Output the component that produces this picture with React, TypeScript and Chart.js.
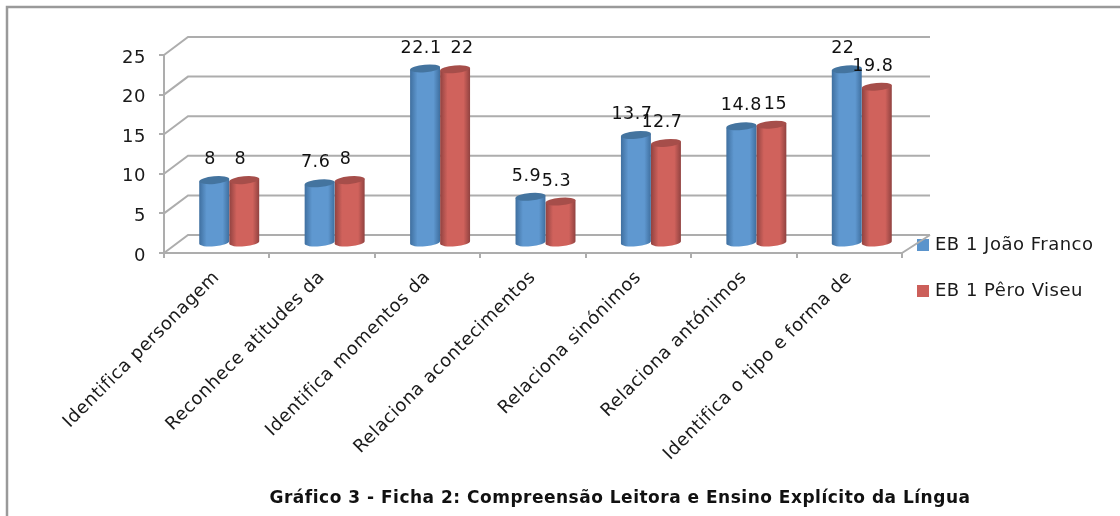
import React, { useEffect, useRef } from "react";
import { Chart, registerables } from "chart.js";

Chart.register(...registerables);

const categories = [
  "Identifica personagem",
  "Reconhece atitudes da",
  "Identifica momentos da",
  "Relaciona acontecimentos",
  "Relaciona sinónimos",
  "Relaciona antónimos",
  "Identifica o tipo e forma de",
];
const joaoFranco = [8, 7.6, 22.1, 5.9, 13.7, 14.8, 22];
const peroViseu = [8, 8, 22, 5.3, 12.7, 15, 19.8];
const seriesNames = ["EB 1 João Franco", "EB 1 Pêro Viseu"];
const titleText = "Gráfico 3 - Ficha 2: Compreensão Leitora e Ensino Explícito da Língua";

const FONT = "'DejaVu Sans', sans-serif";
const GRID = "#adadad";
const TEXT = "#1a1a1a";
const DEPTH_X = 24;
const DEPTH_Y = -18;
const BAR_DX = 12.5;
const BAR_DY = -9.5;
const LETTER_SPACING = "0.5px";

const palette = [
  { edge: "#3f6f9f", mid: "#5f98d0", cap: "#44749f", legend: "#5b94cc" },
  { edge: "#904240", mid: "#d0625c", cap: "#a64e4a", legend: "#cc5f5a" },
];

// Where the source's automatic label placement pushed a label sideways.
const labelShift: Record<string, number> = { "1:2": 11, "0:5": 4, "1:5": 8 };

const wall3d = {
  id: "wall3d",
  beforeDatasetsDraw(chart: any) {
    const { ctx, chartArea: a, scales } = chart;
    const y = scales.y;
    ctx.save();
    ctx.strokeStyle = GRID;
    ctx.lineWidth = 2;
    ctx.beginPath();
    for (const t of y.ticks) {
      const py = y.getPixelForValue(t.value);
      ctx.moveTo(a.left, py);
      ctx.lineTo(a.left + DEPTH_X, py + DEPTH_Y);
      ctx.lineTo(a.right + 28, py + DEPTH_Y);
    }
    ctx.moveTo(a.right, a.bottom);
    ctx.lineTo(a.right + 28, a.bottom + DEPTH_Y);
    ctx.stroke();
    ctx.restore();
  },
};

const cylinders = {
  id: "cylinders",
  beforeDatasetDraw(chart: any, args: any) {
    const { ctx } = chart;
    const colors = palette[args.index];
    const meta = chart.getDatasetMeta(args.index);
    const tilt = -0.09;
    for (const bar of meta.data) {
      const rx = bar.width / 2;
      const ry = 3.8;
      const cx = bar.x + BAR_DX;
      const top = bar.y + BAR_DY;
      const bottom = bar.base + BAR_DY;
      const grad = ctx.createLinearGradient(cx - rx, 0, cx + rx, 0);
      grad.addColorStop(0, colors.edge);
      grad.addColorStop(0.25, colors.mid);
      grad.addColorStop(0.78, colors.mid);
      grad.addColorStop(1, colors.edge);
      ctx.save();
      ctx.beginPath();
      ctx.ellipse(cx, bottom, rx, ry, tilt, 0, Math.PI);
      ctx.lineTo(cx - rx * Math.cos(tilt), top - rx * Math.sin(tilt));
      ctx.lineTo(cx + rx * Math.cos(tilt), top + rx * Math.sin(tilt));
      ctx.closePath();
      ctx.fillStyle = grad;
      ctx.fill();
      ctx.beginPath();
      ctx.ellipse(cx, top, rx, ry, tilt, 0, Math.PI * 2);
      ctx.fillStyle = colors.cap;
      ctx.fill();
      ctx.restore();
    }
    return false;
  },
};

const valueLabels = {
  id: "valueLabels",
  afterDatasetsDraw(chart: any) {
    const { ctx } = chart;
    ctx.save();
    ctx.font = `17.5px ${FONT}`;
    ctx.fillStyle = "#111";
    ctx.textAlign = "center";
    ctx.textBaseline = "middle";
    chart.data.datasets.forEach((ds: any, d: number) => {
      chart.getDatasetMeta(d).data.forEach((bar: any, i: number) => {
        const shift = labelShift[`${d}:${i}`] || 0;
        ctx.fillText(String(ds.data[i]), bar.x + BAR_DX - 4 + shift, bar.y + BAR_DY - 20.5);
      });
    });
    ctx.restore();
  },
};

const LEGEND_PAD = 28;
const placeLegend = {
  id: "placeLegend",
  beforeLayout(chart: any) {
    chart.ctx.letterSpacing = LETTER_SPACING;
  },
  afterLayout(chart: any) {
    const l = chart.legend;
    l.left = 920 - LEGEND_PAD;
    l.right = 1120;
    l.top = 236 - LEGEND_PAD;
    l.bottom = 516;
    const t = chart.titleBlock;
    t.left = 120;
    t.right = 1120;
  },
};

const frame = {
  id: "frame",
  beforeDraw(chart: any) {
    const { ctx, width, height } = chart;
    ctx.letterSpacing = LETTER_SPACING;
    ctx.save();
    ctx.fillStyle = "#fff";
    ctx.fillRect(0, 0, width, height);
    ctx.strokeStyle = "#9a9a9a";
    ctx.lineWidth = 2.5;
    ctx.beginPath();
    ctx.moveTo(7, height);
    ctx.lineTo(7, 7);
    ctx.lineTo(width, 7);
    ctx.stroke();
    ctx.restore();
  },
};

export default function App() {
  const ref = useRef<HTMLCanvasElement>(null);
  useEffect(() => {
    const chart = new Chart(ref.current as HTMLCanvasElement, {
      type: "bar",
      data: {
        labels: categories,
        datasets: [
          { label: seriesNames[0], data: joaoFranco, backgroundColor: palette[0].legend, borderColor: palette[0].legend, borderWidth: 6 },
          { label: seriesNames[1], data: peroViseu, backgroundColor: palette[1].legend, borderColor: palette[1].legend, borderWidth: 6 },
        ],
      },
      plugins: [frame, placeLegend, wall3d, cylinders, valueLabels],
      options: {
        animation: false,
        responsive: false,
        layout: { padding: { top: 55, right: 218, left: 0, bottom: 0 } },
        datasets: { bar: { categoryPercentage: 0.57, barPercentage: 1 } },
        scales: {
          x: {
            afterFit: (s: any) => { s.height = 235.6; },
            border: { color: GRID, width: 2 },
            grid: { drawOnChartArea: false, color: GRID, lineWidth: 2, tickLength: 5, offset: true },
            ticks: {
              autoSkip: false, minRotation: 45, maxRotation: 45,
              color: TEXT, font: { family: FONT, size: 18 }, padding: 9,
            },
          },
          y: {
            min: 0, max: 25,
            afterFit: (s: any) => { s.width = 164; },
            border: { color: GRID, width: 2 },
            grid: { drawOnChartArea: false, color: GRID, lineWidth: 2, tickLength: 5 },
            ticks: { stepSize: 5, color: TEXT, font: { family: FONT, size: 18 }, padding: 13, labelOffset: 3 },
          },
        },
        plugins: {
          tooltip: { enabled: false },
          legend: {
            position: "chartArea", align: "start",
            labels: {
              boxWidth: 6, boxHeight: 6, padding: LEGEND_PAD, color: TEXT,
              font: { family: FONT, size: 18 },
            },
          },
          title: {
            display: true, text: titleText, position: "bottom", color: "#111",
            font: { family: FONT, size: 17, weight: "bold" },
            padding: { top: 0, bottom: 7 },
          },
        },
      },
    } as any);
    return () => chart.destroy();
  }, []);
  return (
    <canvas
      ref={ref}
      width={1120}
      height={516}
      style={{ position: "absolute", left: 0, top: 0, display: "block" }}
    />
  );
}
